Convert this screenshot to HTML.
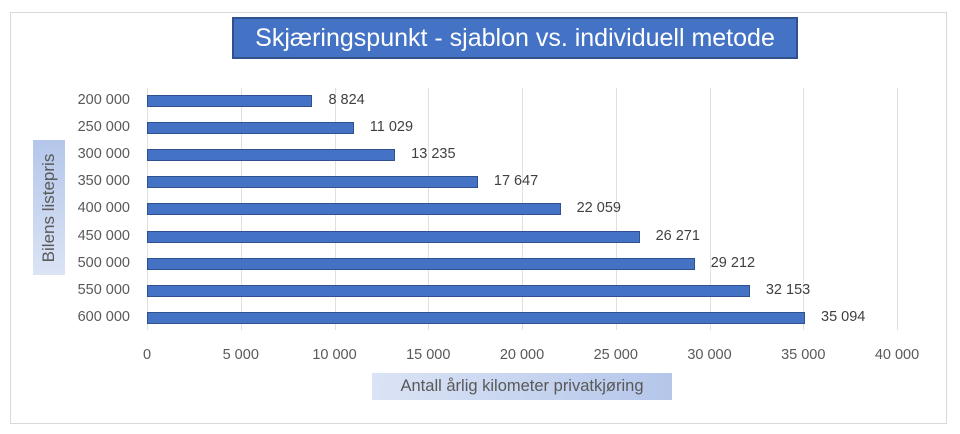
<!DOCTYPE html>
<html><head><meta charset="utf-8"><style>
body{margin:0;width:960px;height:434px;background:#fff;font-family:"Liberation Sans",sans-serif;position:relative;overflow:hidden}
.frame{position:absolute;left:10px;top:12px;width:935px;height:410px;border:1px solid #d9d9d9}
.title{position:absolute;left:232px;top:17px;width:566px;height:42px;background:#4472c4;border:2px solid #2f528f;box-sizing:border-box;color:#fff;font-size:25px;line-height:38px;text-align:center}
.grid{position:absolute;top:88px;height:242px;width:1px;background:#e0e0e0}
.bar{position:absolute;left:147px;height:12px;background:#4472c4;border:1px solid #2f528f;box-sizing:border-box}
.yl{position:absolute;left:38px;width:92px;text-align:right;font-size:14.5px;color:#595959}
.vl{position:absolute;font-size:14.5px;color:#404040}
.xl{position:absolute;top:347px;width:80px;text-align:center;font-size:14.5px;color:#595959}
.ytitle{position:absolute;left:33px;top:140px;width:32px;height:135px;background:linear-gradient(180deg,#b4c6ea,#dbe4f5);}
.ytitle span{position:absolute;left:50%;top:50%;transform:translate(-50%,-50%) rotate(-90deg);white-space:nowrap;font-size:17px;color:#595959}
.xtitle{position:absolute;left:372px;top:373px;width:300px;height:27px;background:linear-gradient(90deg,#dbe4f5,#b4c6ea);font-size:16.5px;color:#595959;line-height:27px;text-align:center}
</style></head><body>
<div class="frame"></div>
<div class="title">Skjæringspunkt - sjablon vs. individuell metode</div>
<div id="c"></div>
<div class="ytitle"><span>Bilens listepris</span></div>
<div class="xtitle">Antall årlig kilometer privatkjøring</div>
<script>
var c=document.getElementById('c'),h='';
var x0=147,s=750/40000;
for(var i=0;i<=8;i++){var x=x0+i*5000*s;h+='<div class="grid" style="left:'+x+'px"></div>';
h+='<div class="xl" style="left:'+(x-40)+'px">'+(i==0?'0':(i*5)+' 000')+'</div>';}
var v=[8824,11029,13235,17647,22059,26271,29212,32153,35094];
for(var i=0;i<9;i++){var y=101+i*27.1;var w=v[i]*s;
h+='<div class="bar" style="top:'+(y-6)+'px;width:'+w+'px"></div>';
h+='<div class="yl" style="top:'+(y-9)+'px">'+(200+i*50)+' 000</div>';
var t=String(v[i]);t=t.slice(0,-3)+' '+t.slice(-3);
h+='<div class="vl" style="top:'+(y-9)+'px;left:'+(x0+w+16)+'px">'+t+'</div>';}
c.innerHTML=h;
</script>
</body></html>
